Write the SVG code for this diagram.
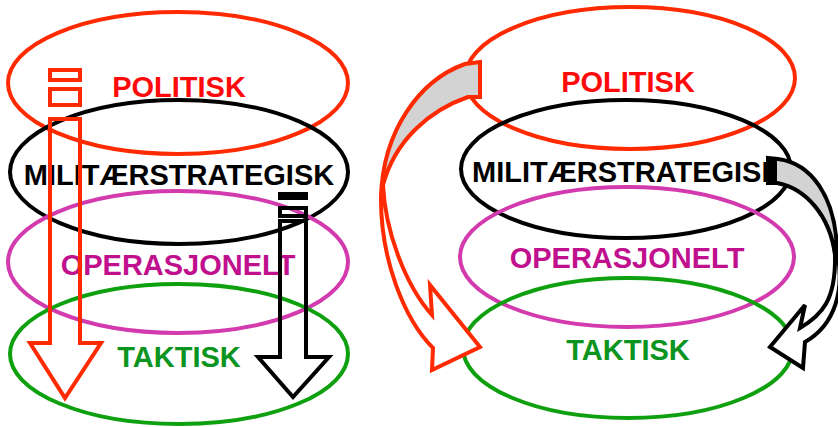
<svg xmlns="http://www.w3.org/2000/svg" width="838" height="427" viewBox="0 0 838 427">
<style>
  .lbl { font-family: "Liberation Sans", Arial, sans-serif; font-weight: bold; font-size: 29px; text-anchor: middle; }
  .ring { fill: none; stroke-width: 4; }
  .red { stroke: #ff2a00; }
  .blk { stroke: #000000; }
  .mag { stroke: #d23aae; }
  .grn { stroke: #0fa010; }
  .tred { fill: #ff0a0a; }
  .tblk { fill: #000000; }
  .tmag { fill: #c0108e; }
  .tgrn { fill: #0b9420; }
  .arr { stroke-width: 4; stroke-linejoin: miter; }
</style>
<rect width="838" height="427" fill="#ffffff"/>

<!-- Left stack -->
<g id="left-politisk">
  <ellipse class="ring red" cx="178" cy="83" rx="170" ry="71"/>
  <text class="lbl tred" x="179" y="97">POLITISK</text>
</g>
<g id="left-militaerstrategisk">
  <ellipse class="ring blk" cx="179" cy="172" rx="169" ry="72"/>
  <text class="lbl tblk" x="179" y="185">MILITÆRSTRATEGISK</text>
</g>
<g id="left-operasjonelt">
  <ellipse class="ring mag" cx="178" cy="262" rx="170" ry="71"/>
  <text class="lbl tmag" x="178" y="275">OPERASJONELT</text>
</g>
<g id="left-taktisk">
  <ellipse class="ring grn" cx="179" cy="354" rx="169" ry="70"/>
  <text class="lbl tgrn" x="179" y="367">TAKTISK</text>
</g>

<!-- Right stack -->
<g id="right-politisk">
  <ellipse class="ring red" cx="630" cy="78" rx="165" ry="71"/>
  <text class="lbl tred" x="628" y="92">POLITISK</text>
</g>
<g id="right-militaerstrategisk">
  <ellipse class="ring blk" cx="626" cy="169" rx="165" ry="69"/>
  <text class="lbl tblk" x="472" y="182" style="text-anchor:start">MILITÆRSTRATEGISK</text>
</g>
<g id="right-operasjonelt">
  <ellipse class="ring mag" cx="627" cy="257" rx="167" ry="70"/>
  <text class="lbl tmag" x="627" y="268">OPERASJONELT</text>
</g>
<g id="right-taktisk">
  <ellipse class="ring grn" cx="628" cy="348" rx="165" ry="70"/>
  <text class="lbl tgrn" x="628" y="360">TAKTISK</text>
</g>

<!-- Connectors -->
<g id="connectors">
  <!-- left red striped arrow -->
  <g class="arr" fill="none" stroke="#ff2a00">
    <rect x="50" y="70" width="30" height="10"/>
    <rect x="50" y="89" width="30" height="16"/>
    <path d="M50,119 L50,343 L30,343 L65,398 L101,343 L80,343 L80,119 Z"/>
  </g>
  <!-- left black striped arrow -->
  <g class="arr" fill="none" stroke="#000000">
    <rect x="280" y="194" width="26" height="4"/>
    <rect x="280" y="208" width="26" height="8"/>
    <path d="M280,221 L280,357 L258,357 L293,397 L329,357 L306,357 L306,221 Z"/>
  </g>
  <!-- right red curved arrow -->
  <g class="arr" stroke="#ff2a00">
    <path fill="#d3d3d3" d="M480,62 L480,97 L468,97 C430,110 395,140 383,185 L381,197 C383,130 420,80 465,64 Z"/>
    <path fill="#ffffff" d="M381,195 C380,260 405,320 433,348 L432,370 L480,347 L430,285 L432,315 C405,285 385,230 383,185 Z"/>
  </g>
  <!-- right black curved arrow -->
  <g class="arr" stroke="#000000">
    <path fill="#d3d3d3" d="M768,158 L778,159 C810,163 836,195 837,252 L835,255 C830,215 805,188 777,183 L768,183 Z"/>
    <rect x="768" y="158" width="9" height="25" fill="#000000" stroke="none"/>
    <path fill="#ffffff" d="M837,252 C845,290 835,325 805,342 L803,368 L770,347 L805,305 L800,328 C822,315 836,300 835,255 Z"/>
  </g>
</g>
</svg>
